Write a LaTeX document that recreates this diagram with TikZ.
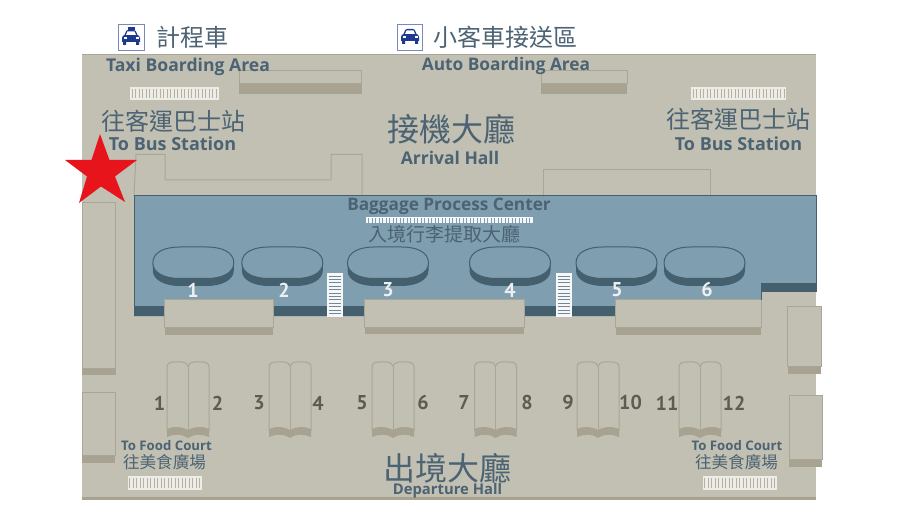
\documentclass[tikz,border=0pt]{standalone}
\usepackage{fontspec}
\setmainfont{Open Sans}
\newfontfamily\cjk{Noto Sans CJK TC}
\newfontfamily\en{Open Sans}
\newfontfamily\num{PT Sans}
\definecolor{floorc}{HTML}{C2C0B3}
\definecolor{shadec}{HTML}{A7A390}
\definecolor{edge}{HTML}{A9A695}
\definecolor{bluef}{HTML}{7F9EAF}
\definecolor{blued}{HTML}{44606F}
\definecolor{txt}{HTML}{4C6373}
\definecolor{numc}{HTML}{5C5C52}
\definecolor{navy}{HTML}{1E3A8F}
\definecolor{stripe}{HTML}{EDECE6}
\definecolor{starc}{HTML}{E8141C}
\tikzset{
  entxt/.style={font=\en\bfseries, text=txt, inner sep=0pt},
  zhtxt/.style={font=\cjk, text=txt, inner sep=0pt},
  gatenum/.style={font=\num\bfseries\fontsize{20}{20}\selectfont, text=numc, inner sep=0pt},
  belt/.style={font=\num\bfseries\fontsize{20}{20}\selectfont, text=white!85!bluef, inner sep=0pt},
  wall/.style={draw=edge, line width=1pt, fill=floorc},
  thin/.style={draw=edge, line width=1pt},
}
\newcommand{\block}[5]{% x0 y0 x1 yshade y1
  \fill[shadec] (#1,#4) rectangle (#3,#5);
  \draw[wall] (#1,#2) rectangle (#3,#4);
}
\newcommand{\crosswalk}[4]{%
  \fill[stripe] (#1,#2) rectangle (#3,#4);
  \pgfmathsetmacro{\xa}{#1+2}\pgfmathsetmacro{\xb}{#1+5.5}\pgfmathsetmacro{\xe}{#3-1.5}
  \foreach \xx in {\xa,\xb,...,\xe} \draw[shadec!80!stripe, line width=.9pt] (\xx,#2+2) -- (\xx,#4-2);
}
\newcommand{\ovalpath}{(0,263) .. controls (0,252) and (12,247) .. (27,247) -- (54,247) .. controls (69,247) and (81,252) .. (81,263) .. controls (81,273) and (69,278.5) .. (54,278.5) -- (27,278.5) .. controls (12,278.5) and (0,273) .. (0,263) -- cycle}
\newcommand{\carousel}[1]{%
  \begin{scope}[shift={(#1,0)}]
    \fill[blued] (0,263) -- (0,270.5) .. controls (0,280) and (12,286) .. (27,286) -- (54,286) .. controls (69,286) and (81,280) .. (81,270.5) -- (81,263) -- cycle;
    \draw[blued, fill=bluef, line width=1pt] \ovalpath;
  \end{scope}
}
\newcommand{\bookisle}[1]{%
  \begin{scope}[shift={(#1,0)}]
    \draw[wall] (0,431) -- (0,367) .. controls (0,363) and (3,362) .. (8,362) -- (15,362) .. controls (18,362) and (20,363.5) .. (21,366) .. controls (22,363.5) and (24,362) .. (27,362) -- (34,362) .. controls (39,362) and (42,363) .. (42,367) -- (42,431);
    \draw[edge, line width=1pt] (21,366) -- (21,430);
    \fill[shadec] (0,429) .. controls (5,426.5) and (14,426) .. (21,430) .. controls (28,426) and (37,426.5) .. (42,429) -- (42,437) .. controls (35,434) and (27,433.5) .. (21,438) .. controls (15,433.5) and (7,434) .. (0,437) -- cycle;
  \end{scope}
}
\newcommand{\carbody}{%
  \fill[navy] (-9,3) -- (-9,-1) .. controls (-9,-3) and (-7.5,-3.5) .. (-6.5,-4) -- (-4.8,-8) .. controls (-4.5,-9) and (-3.5,-9) .. (-3,-9) -- (3,-9) .. controls (3.5,-9) and (4.5,-9) .. (4.8,-8) -- (6.5,-4) .. controls (7.5,-3.5) and (9,-3) .. (9,-1) -- (9,3) -- (8,3) -- (8,6) -- (5,6) -- (5,3) -- (-5,3) -- (-5,6) -- (-8,6) -- (-8,3) -- cycle;
  \fill[white] (-3.5,-7.5) -- (3.5,-7.5) -- (5,-4) -- (-5,-4) -- cycle;
  \fill[white] (-7.5,-2) rectangle (-4.5,0);
  \fill[white] (4.5,-2) rectangle (7.5,0);
}
\begin{document}
\begin{tikzpicture}[x=1pt,y=-1pt]
\useasboundingbox (0,0) rectangle (900,526);
\fill[white] (0,0) rectangle (900,526);
% floor
\fill[floorc] (82,54) rectangle (816,500);
\fill[shadec] (82,497) rectangle (816,500);
\draw[edge, line width=.6pt] (82,54) -- (816,54);
% outlines above the hall
\draw[thin] (134,196) -- (136,154.5) -- (165,154.5) -- (165,180) -- (331,180) -- (331,154.5) -- (362,154.5) -- (362,196);
\draw[thin] (543.5,196) -- (543.5,170) -- (710.5,170) -- (710.5,196);
% baggage hall
\fill[bluef] (134,196) -- (816,196) -- (816,292) -- (761,292) -- (761,316.5) -- (134,316.5) -- cycle;
\fill[blued] (134,306.5) rectangle (761,316.5);
\fill[blued] (761,283) rectangle (816,292);
\draw[blued, line width=1pt] (134,316.5) -- (134,196) -- (816,196) -- (816,292);
\foreach \cx in {152.8,241.8,347.5,469.5,576,664} {\carousel{\cx}}
% desks
\block{164.8}{300}{273}{328}{335.5}
\block{364.8}{300}{524}{328}{334}
\block{615.8}{300}{761}{328}{335.5}
\draw[blued, line width=1pt] (761,283) -- (761,300);
% walls
\block{82}{203}{115.5}{369}{375}
\block{82}{393}{115}{456}{463}
\block{787.5}{307}{821}{367}{374}
\block{789}{396}{822}{460}{467}
% top boxes
\block{239}{71}{361.5}{84}{94}
\block{541}{71}{627}{84}{94}
% crosswalks
\crosswalk{130}{87}{219}{100}
\crosswalk{691}{87}{786}{100}
\crosswalk{127.5}{476}{202}{490}
\crosswalk{702.5}{476}{777}{490}
% baggage strip
\fill[white!92!bluef] (366,216.7) rectangle (532.7,223);
\foreach \xx in {368.5,372,...,531} \draw[bluef, line width=.8pt] (\xx,218.5) -- (\xx,223);
% escalators
\foreach \ex in {327,556} {
  \fill[white!92!bluef] (\ex,272.7) rectangle (\ex+15.6,316.7);
  \foreach \yy in {276,279.4,...,315} \draw[blued!75!white, line width=.7pt] (\ex+1.5,\yy) -- (\ex+14,\yy);
}
% books
\foreach \bx in {167,269,372,474.5,577,679} {\bookisle{\bx}}
% star
\fill[starc] (100,134) -- (109.5,160) -- (137,160) -- (115,176.5) -- (125,202) -- (101,186.5) -- (79,203) -- (87,176.5) -- (65,160) -- (91.5,160) -- cycle;
% icons
\draw[navy!60!white, line width=.8pt, fill=white] (118,24.5) rectangle (144,50.5);
\begin{scope}[shift={(131,39)}]
  \carbody
  \fill[navy] (-3.5,-11.5) rectangle (3.5,-9);
\end{scope}
\draw[navy!60!white, line width=.8pt, fill=white] (397,24.5) rectangle (422.5,50.5);
\begin{scope}[shift={(410,38)}]
  \carbody
\end{scope}
% texts
\node[zhtxt, font=\cjk\fontsize{24}{24}\selectfont] (t1) at (192,37) {計程車};
\node[zhtxt, font=\cjk\fontsize{24}{24}\selectfont] (t2) at (505.5,37) {小客車接送區};
\node[entxt, font=\en\bfseries\fontsize{17.6}{17.6}\selectfont] (t3) at (188,67) {Taxi Boarding Area};
\node[entxt, font=\en\bfseries\fontsize{17.3}{17.3}\selectfont] (t4) at (506,66) {Auto Boarding Area};
\node[zhtxt, font=\cjk\fontsize{24}{24}\selectfont] (t5) at (173,121) {往客運巴士站};
\node[entxt, font=\en\bfseries\fontsize{18}{18}\selectfont] (t6) at (172.5,143.5) {To Bus Station};
\node[zhtxt, font=\cjk\fontsize{24}{24}\selectfont] (t7) at (738,119) {往客運巴士站};
\node[entxt, font=\en\bfseries\fontsize{18}{18}\selectfont] (t8) at (738.5,143.5) {To Bus Station};
\node[zhtxt, font=\cjk\fontsize{32}{32}\selectfont] (t9) at (451,129) {接機大廳};
\node[entxt, font=\en\bfseries\fontsize{17.5}{17.5}\selectfont] (t10) at (450,157.5) {Arrival Hall};
\node[entxt, font=\en\bfseries\fontsize{17.2}{17.2}\selectfont] (t11) at (449,206.5) {Baggage Process Center};
\node[zhtxt, font=\cjk\fontsize{19}{19}\selectfont] (t12) at (444.5,234) {入境行李提取大廳};
\node[zhtxt, font=\cjk\fontsize{32}{32}\selectfont] (t13) at (447.5,468) {出境大廳};
\node[entxt, font=\en\bfseries\fontsize{14.8}{14.8}\selectfont] (t14) at (447.5,490.5) {Departure Hall};
\node[entxt, font=\en\bfseries\fontsize{13.2}{13.2}\selectfont] (t15) at (166.5,445.5) {To Food Court};
\node[zhtxt, font=\cjk\fontsize{16.6}{16.6}\selectfont] (t16) at (164.5,462) {往美食廣場};
\node[entxt, font=\en\bfseries\fontsize{13.2}{13.2}\selectfont] (t17) at (737,445.5) {To Food Court};
\node[zhtxt, font=\cjk\fontsize{16.6}{16.6}\selectfont] (t18) at (736.5,462) {往美食廣場};
\foreach \n/\xx in {1/193,2/284,3/388,4/510,5/617,6/707} \node[belt] (b\n) at (\xx,290) {\n};
\foreach \n/\xx in {1/159.5,2/217.5,3/259,4/318,5/362,6/423,7/464,8/527,9/568,10/630.5,11/667,12/734} \node[gatenum] (g\n) at (\xx,403) {\n};
\end{tikzpicture}
\end{document}
